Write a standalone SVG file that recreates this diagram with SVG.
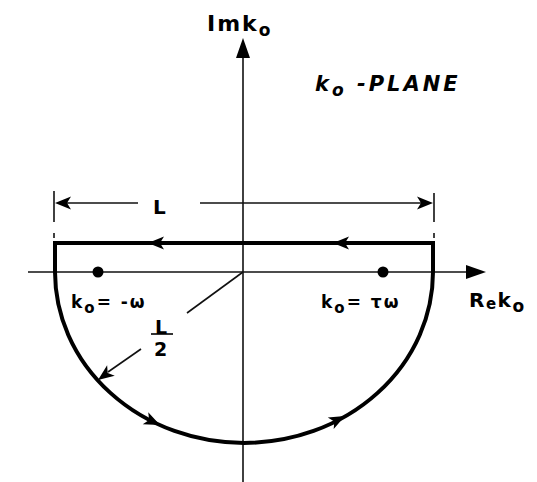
<svg xmlns="http://www.w3.org/2000/svg" width="537" height="482" viewBox="0 0 537 482">
<style>
.ax{stroke:#111;stroke-width:1.6;fill:none}
.ct{stroke:#000;stroke-width:4;fill:none;stroke-linejoin:miter}
.dm{stroke:#111;stroke-width:1.6;fill:none}
.t{font-family:"DejaVu Sans","Liberation Sans",sans-serif;font-weight:bold;fill:#000}
.ah{fill:#000}
</style>
<defs>
<path id="ah" d="M0,0 L-16,-6.5 L-12,0 L-16,6.5 Z"/>
<path id="axh" d="M0,0 L-20,-7 L-20,7 Z"/>
</defs>
<rect width="537" height="482" fill="#fff"/>
<g id="connectors">
<line class="ax" x1="243" y1="50" x2="243" y2="482"/>
<line class="ax" x1="28" y1="272" x2="470" y2="272"/>
<use href="#axh" class="ah" transform="translate(243,38) rotate(-90)"/>
<use href="#axh" class="ah" transform="translate(486,272)"/>
<path class="ct" d="M55,272 L55,243 L433,243 L433,272 A189,171 0 0 1 55,272"/>
<use href="#ah" class="ah" transform="translate(148,243) rotate(180)"/>
<use href="#ah" class="ah" transform="translate(333,243) rotate(180)"/>
<use href="#ah" class="ah" transform="translate(160,425) rotate(25)"/>
<use href="#ah" class="ah" transform="translate(345,416) rotate(-27)"/>
<line class="dm" x1="54" y1="191" x2="54" y2="222"/>
<line class="dm" x1="54" y1="233" x2="54" y2="238"/>
<line class="dm" x1="434" y1="193" x2="434" y2="222"/>
<line class="dm" x1="434" y1="233" x2="434" y2="238"/>
<line class="dm" x1="60" y1="203" x2="138" y2="203"/>
<line class="dm" x1="200" y1="203" x2="428" y2="203"/>
<use href="#ah" class="ah" transform="translate(55,203) rotate(180)"/>
<use href="#ah" class="ah" transform="translate(433,203)"/>
<line class="dm" x1="243" y1="272" x2="187" y2="313"/>
<line class="dm" x1="141" y1="349" x2="108" y2="372"/>
<use href="#ah" class="ah" transform="translate(98,380) rotate(144)"/>
</g>
<g id="poles">
<circle cx="98" cy="272" r="5.5" fill="#000"/>
<circle cx="383" cy="272" r="5.5" fill="#000"/>
</g>
<g id="labels">
<text class="t" x="207" y="31" font-size="22" letter-spacing="2">Imk<tspan font-size="17" dy="5">o</tspan></text>
<text class="t" x="315" y="91" font-size="21" font-style="italic" letter-spacing="3">k<tspan font-size="17" dy="5">o</tspan><tspan dy="-5"> -PLANE</tspan></text>
<text class="t" x="153" y="214" font-size="20" font-weight="normal">L</text>
<text class="t" x="71" y="308" font-size="17" letter-spacing="2">k<tspan font-size="15" dy="5">o</tspan><tspan dy="-5">= -ω</tspan></text>
<text class="t" x="321" y="308" font-size="17" letter-spacing="2">k<tspan font-size="15" dy="5">o</tspan><tspan dy="-5">= τω</tspan></text>
<text class="t" x="469" y="307" font-size="20" letter-spacing="1.5">R<tspan font-size="15" dy="2">e</tspan><tspan dy="-2">k</tspan><tspan font-size="17" dy="5">o</tspan></text>
<text class="t" x="155" y="334" font-size="19" font-weight="normal">L</text>
<line x1="151" y1="334" x2="173" y2="334" stroke="#000" stroke-width="1.6"/>
<text class="t" x="154" y="356" font-size="19" font-weight="normal">2</text>
</g>
</svg>
